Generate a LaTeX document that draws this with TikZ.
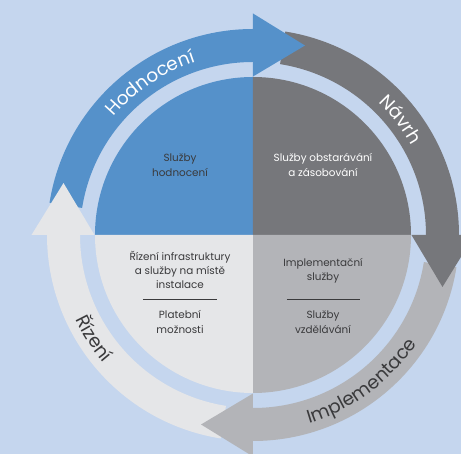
\documentclass[tikz,border=0pt]{standalone}
\usepackage{fontspec}
\setmainfont{Poppins}
\usetikzlibrary{decorations.text}
\definecolor{bgblue}{HTML}{C5D6EE}
\definecolor{phblue}{HTML}{5591CA}
\definecolor{phdark}{HTML}{76777B}
\definecolor{phmid}{HTML}{B3B4B8}
\definecolor{phlight}{HTML}{E5E6E8}
\definecolor{txtgray}{HTML}{3A3A3C}
\tikzset{
  box/.style={align=center, text=txtgray, inner sep=0pt, font=\fontsize{10.4}{14.3}\selectfont},
  sep/.style={draw=txtgray, line width=0.9pt},
  phase/.style={decorate, decoration={text along path, text align=center, text color=#1}},
}
\newcommand{\phasefont}{\fontsize{18.5}{18.5}\selectfont}

\begin{document}
\begin{tikzpicture}[x=1pt,y=1pt]
\fill[bgblue] (-253,-219) rectangle (208,235);
\useasboundingbox (-253,-219) rectangle (208,235);
% inner disc
\fill[phblue]  (0,0) -- (90:158) arc[start angle=90, end angle=180, radius=158] -- cycle;
\fill[phdark]  (0,0) -- (0:158) arc[start angle=0, end angle=90, radius=158] -- cycle;
\fill[phmid]   (0,0) -- (-90:158) arc[start angle=-90, end angle=0, radius=158] -- cycle;
\fill[phlight] (0,0) -- (180:158) arc[start angle=180, end angle=270, radius=158] -- cycle;
% ring arrows: bodies first, heads on top
\foreach \col/\a in {phblue/90, phdark/0, phmid/-90, phlight/-180}
{
  \pgfmathsetmacro{\b}{\a+81}
  \fill[\col] (\b:173) arc[start angle=\b, end angle=\a, radius=173]
    -- (\a:206) arc[start angle=\a, end angle=\b, radius=206] -- cycle;
}
\foreach \col/\a in {phblue/90, phdark/0, phmid/-90, phlight/-180}
{
  \pgfmathsetmacro{\t}{\a-15.34}
  \fill[\col] (\a:158.5) -- (\a:221.5) -- (\t:196.5) -- cycle;
}
% phase names
\path[phase=white, decoration={text={|\phasefont|Hodnocení}}]
  (152:182.5) arc[start angle=152, end angle=96, radius=182.5];
\path[phase=white, decoration={text={|\phasefont|Návrh}}]
  (68:182.5) arc[start angle=68, end angle=8, radius=182.5];
\path[phase=txtgray, decoration={text={|\phasefont|Implementace}}]
  (-95:196.5) arc[start angle=-95, end angle=-12, radius=196.5];
\path[phase=txtgray, decoration={text={|\phasefont|Řízení}}]
  (-178:196.5) arc[start angle=-178, end angle=-116, radius=196.5];
% services
\node[box] (hodn) at (-73,70) {Služby\\hodnocení};
\node[box, text=white] (obst) at (70,70) {Služby obstarávání\\a zásobování};
\node[box] (infra) at (-73,-35) {Řízení infrastruktury\\a služby na místě\\instalace};
\node[box] (plat) at (-73,-87) {Platební\\možnosti};
\node[box] (impl) at (70,-36) {Implementační\\služby};
\node[box] (vzde) at (70,-87) {Služby\\vzdělávání};
\draw[sep] (-110,-64) -- (-36,-64);
\draw[sep] (34,-64) -- (107,-64);
\end{tikzpicture}
\end{document}
